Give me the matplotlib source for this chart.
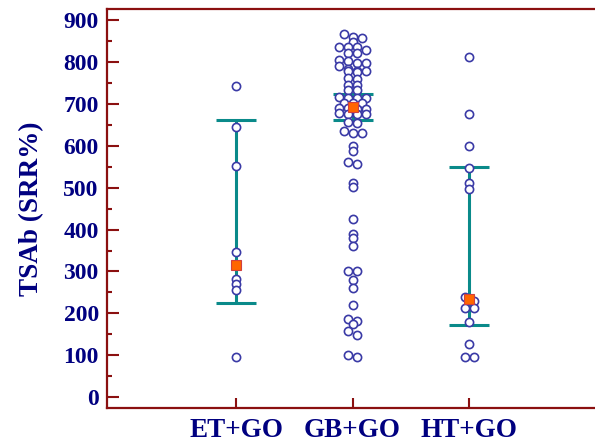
import numpy as np
import matplotlib.pyplot as plt

# Data
groups = ['ET+GO', 'GB+GO', 'HT+GO']

et_go = [743, 644, 552, 347, 281, 270, 256, 97]
gb_go = [866, 859, 856, 847, 836, 835, 835, 827, 822, 822, 805, 801, 797,
         797, 789, 782, 779, 779, 777, 775, 761, 759, 745, 744, 733, 733,
         715, 713, 713, 713, 701, 701, 701, 689, 689, 688, 688, 677, 676,
         676, 675, 657, 655, 636, 630, 630, 600, 588, 561, 556, 512, 501,
         425, 390, 379, 361, 300, 300, 280, 260, 220, 186, 183, 175, 159,
         149, 101, 95]
ht_go = [811, 676, 598, 546, 510, 496, 240, 230, 212, 212, 180, 127, 97, 97]

medians = [316, 693, 234]
ci_low = [226, 661, 172]
ci_high = [661, 723, 550]

# style
navy = '#000080'
spine_col = '#8b1010'
teal = '#0a8a8a'
dot_col = '#3a3aa6'

plt.rcParams['font.family'] = ['Liberation Serif', 'DejaVu Serif']
plt.rcParams['font.weight'] = 'bold'

fig = plt.figure(figsize=(5.95, 4.44), dpi=100)
ax = fig.add_axes([0.180, 0.081, 0.82, 0.899])

xlim = (-0.107, 4.08)
ylim = (-25.5, 926)
ax.set_xlim(*xlim)
ax.set_ylim(*ylim)

# pixel scale to spread points that share the same level
px_x = 0.82 * 595 / (xlim[1] - xlim[0])
dot_px = 9.0
row_tol = 10


def spread(values):
    vals = sorted(values, reverse=True)
    offs = []
    row = []
    for v in vals:
        if row and row[0] - v > row_tol:
            n = len(row)
            offs += [(i - (n - 1) / 2) * dot_px / px_x for i in range(n)]
            row = []
        row.append(v)
    n = len(row)
    offs += [(i - (n - 1) / 2) * dot_px / px_x for i in range(n)]
    return np.array(vals), np.array(offs)


for i, vals in enumerate([et_go, gb_go, ht_go]):
    xpos = i + 1
    ax.errorbar(xpos, medians[i],
                yerr=[[medians[i] - ci_low[i]], [ci_high[i] - medians[i]]],
                fmt='none', ecolor=teal, elinewidth=2.2,
                capsize=14.4, capthick=2.2, zorder=2)
    v, off = spread(vals)
    ax.plot(xpos + off, v, linestyle='none', marker='o',
            markersize=5.9, markerfacecolor='white',
            markeredgecolor=dot_col, markeredgewidth=1.2, zorder=3)
    ax.plot(xpos, medians[i], linestyle='none', marker='s',
            markersize=6.5, markerfacecolor='#ff6600',
            markeredgecolor='#d04040', markeredgewidth=0.8, zorder=4)

ax.set_xticks([1, 2, 3])
ax.set_xticklabels(groups)
ax.set_yticks(np.arange(0, 901, 100))
ax.set_yticks(np.arange(50, 900, 100), minor=True)

ax.tick_params(axis='y', which='major', direction='in', length=8.6,
               width=1.5, color=spine_col, labelsize=17,
               labelcolor=navy, pad=6)
ax.tick_params(axis='y', which='minor', direction='in', length=3.8,
               width=1.5, color=spine_col)
ax.tick_params(axis='x', which='major', direction='in', length=7,
               width=1.5, color=spine_col, labelsize=19.5,
               labelcolor=navy, pad=7)
ax.tick_params(axis='x', which='minor', bottom=False)

for side in ['left', 'top', 'bottom']:
    ax.spines[side].set_color(spine_col)
    ax.spines[side].set_linewidth(1.6)
ax.spines['right'].set_visible(False)

ax.set_ylabel('TSAb (SRR%)', fontsize=19.5, color=navy,
              fontweight='bold', labelpad=14)

plt.savefig('out.png', dpi=100)
